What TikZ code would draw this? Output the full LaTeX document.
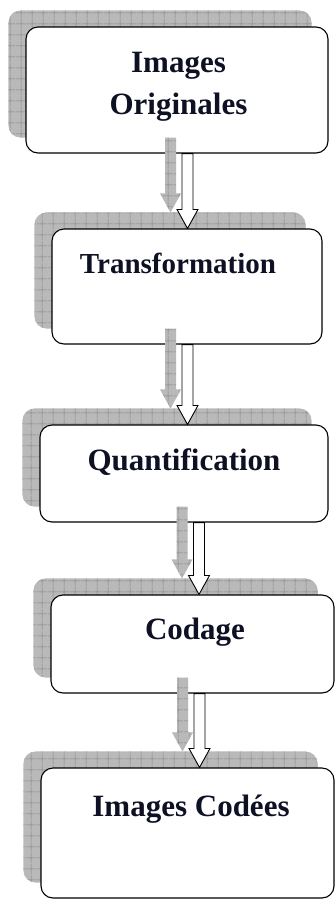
\documentclass[tikz,border=0pt]{standalone}
\usepackage{fontspec}
\setmainfont{Liberation Serif}
\usepackage{xcolor}
\usepackage{tikz}
\usetikzlibrary{arrows.meta,backgrounds,calc,patterns.meta,positioning}
\definecolor{inkblue}{RGB}{14,16,36}
\tikzset{
  stagebox/.style={draw=black,line width=1.1pt,rounded corners=12pt,fill=white,inner sep=0pt},
  hatchfill/.style={preaction={fill=gray!55},
                    pattern={Hatch[angle=0,distance=10.5pt,line width=.55pt]},pattern color=black!48},
  shadowbox/.style={hatchfill,rounded corners=12pt},
  stagetext/.style={font=\bfseries\fontsize{31}{42}\selectfont,text=inkblue,align=center,
                    inner sep=0pt,anchor=base},
  flow/.style={draw=black,line width=.9pt,fill=white},
  flowshadow/.style={hatchfill},
  blockarrow/.style={to path={let \p1=(\tikztostart),\p2=(\tikztotarget) in
    (\x1-5.5pt,\y1) -- (\x1-5.5pt,\y2+19pt) -- (\x1-10.5pt,\y2+19pt) -- (\x1,\y2)
    -- (\x1+10.5pt,\y2+19pt) -- (\x1+5.5pt,\y2+19pt) -- (\x1+5.5pt,\y1) -- cycle}}
}
\begin{document}
\begin{tikzpicture}[x=1pt,y=-1pt]
  \useasboundingbox (0,0) rectangle (335,900);
  % Stages, top to bottom.
  \node[stagebox,minimum width=302,minimum height=126] (b1) at (177,90) {};
  \node[stagebox,minimum width=270,minimum height=115] (b2) at (187,286.5) {};
  \node[stagebox,minimum width=288,minimum height=97] (b3) at (184,473.5) {};
  \node[stagebox,minimum width=283,minimum height=98] (b4) at (192.5,644) {};
  \node[stagebox,minimum width=293,minimum height=130] (b5) at (187.5,833) {};
  \node[stagetext] (t1) at (178.5,114) {Images\\Originales};
  \node[stagetext,font=\bfseries\fontsize{29}{35}\selectfont] (t2) at (178,273) {Transformation};
  \node[stagetext] (t3) at (184,470) {Quantification};
  \node[stagetext] (t4) at (195,639) {Codage};
  \node[stagetext] (t5) at (191,816) {Images Codées};
  \begin{scope}[on background layer]
    \foreach \b in {b1,b2,b3,b4,b5}
      \path[shadowbox] ($(\b.north west)+(-17,-16)$) rectangle ($(\b.south east)+(-17,-16)$);
  \end{scope}
  % Block arrows with their hatched shadows.
  \coordinate (a1) at (187.5,0);
  \coordinate (a2) at (187.5,0);
  \coordinate (a3) at (199,0);
  \coordinate (a4) at (199.5,0);
  \foreach \u/\v/\a in {b1/b2/a1,b2/b3/a2,b3/b4/a3,b4/b5/a4} {
    \path[flowshadow,blockarrow] ($(\u.south -| \a)+(-17,-16)$) to ($(\v.north -| \a)+(-17,-16)$);
    \draw[flow,blockarrow] (\u.south -| \a) to (\v.north -| \a);
  }
\end{tikzpicture}
\end{document}
